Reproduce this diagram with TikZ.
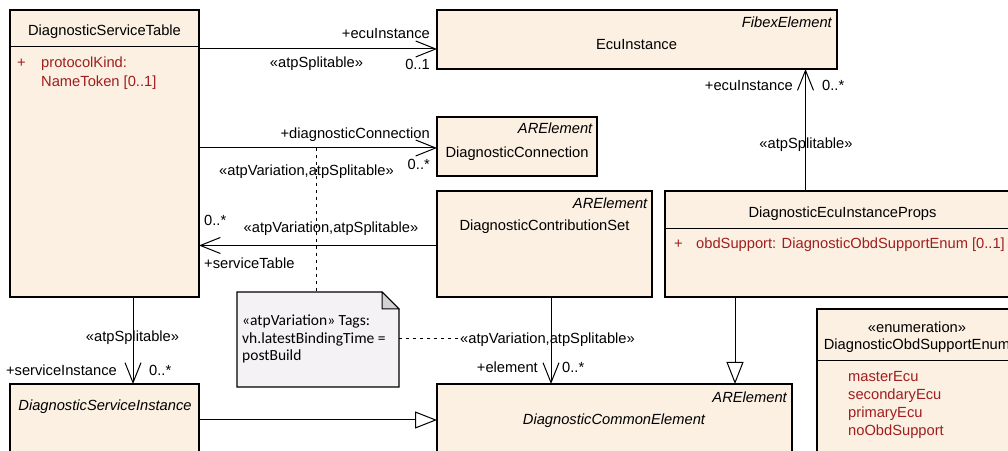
\documentclass[tikz,border=0pt]{standalone}
\usepackage{fontspec}
\setmainfont{Liberation Sans}
\newfontfamily\notefont{Carlito}
\usetikzlibrary{arrows.meta}
\definecolor{clsfill}{RGB}{251,240,226}
\definecolor{notefill}{RGB}{245,242,246}
\definecolor{foldfill}{RGB}{210,210,214}
\definecolor{attrred}{RGB}{160,30,30}
\tikzset{
 cls/.style={draw=black, line width=1.1bp, fill=clsfill, inner sep=0pt, outer sep=0pt, anchor=north west},
 lbl/.style={inner sep=0pt, text height=13.5bp, text depth=3bp, font=\fontsize{14.7bp}{18bp}\selectfont},
 ilbl/.style={lbl, font=\fontsize{14.7bp}{18bp}\selectfont\itshape},
 attr/.style={lbl, text=attrred},
 notetext/.style={inner sep=0pt, text height=11bp, text depth=3bp, font=\notefont\fontsize{15.5bp}{18bp}\selectfont, anchor=west},
 assoc/.style={line width=1bp, -{Straight Barb[length=20bp,width=16bp,line width=1bp]}},
 gen/.style={line width=1bp, -{Triangle[open,length=22bp,width=17bp,fill=white,line width=1bp]}},
 sepline/.style={line width=1bp},
 notelink/.style={line width=1bp, dash pattern=on 3bp off 4bp},
}
\begin{document}
\begin{tikzpicture}[x=1bp,y=-1bp]
\useasboundingbox (0,0) rectangle (1008,451);
\clip (0,0) rectangle (1008,451);

% class boxes
\node[cls, minimum width=189bp, minimum height=287bp] (dst) at (10,10) {};
\node[cls, minimum width=400bp, minimum height=59bp] (eci) at (437,10) {};
\node[cls, minimum width=160bp, minimum height=59bp] (dcon) at (437,117) {};
\node[cls, minimum width=215bp, minimum height=106bp] (dcs) at (437,191) {};
\node[cls, minimum width=355bp, minimum height=106bp] (props) at (665,191) {};
\node[cls, minimum width=189bp, minimum height=90bp] (dsi) at (10,384) {};
\node[cls, minimum width=355bp, minimum height=90bp] (dce) at (437,384) {};
\node[cls, minimum width=200bp, minimum height=160bp] (enum) at (817,309) {};

% note
\node[inner sep=0pt, outer sep=0pt, minimum width=162bp, minimum height=95bp, anchor=north west] (note) at (237,292) {};
\draw[line width=1.1bp, fill=notefill] (note.north west) -- ([xshift=-17bp]note.north east) -- ([yshift=-17bp]note.north east) -- (note.south east) -- (note.south west) -- cycle;
\draw[line width=1bp, fill=foldfill] ([xshift=-17bp]note.north east) -- ([xshift=-17bp,yshift=-17bp]note.north east) -- ([yshift=-17bp]note.north east) -- cycle;
\node[notetext] (n1) at (242,322) {«atpVariation» Tags:};
\node[notetext] (n2) at (242,339.5) {vh.latestBindingTime =};
\node[notetext] (n3) at (242,357) {postBuild};

% DiagnosticServiceTable
\node[lbl] (dstT) at (104.5,30.5) {DiagnosticServiceTable};
\draw[sepline] (dst.west |- 0,47) -- (dst.east |- 0,47);
\node[attr, anchor=west] (dstP) at (17,62.5) {+};
\node[attr, anchor=west] (dstA1) at (41,62.5) {protocolKind:};
\node[attr, anchor=west] (dstA2) at (41,81) {NameToken [0..1]};

% EcuInstance
\node[ilbl, anchor=east] (eciS) at (832,22.5) {FibexElement};
\node[lbl] (eciT) at (636.5,44.5) {EcuInstance};

% DiagnosticConnection
\node[ilbl, anchor=east] (dconS) at (592.5,128.5) {ARElement};
\node[lbl] (dconT) at (517,152) {DiagnosticConnection};

% DiagnosticContributionSet
\node[ilbl, anchor=east] (dcsS) at (647.5,203.5) {ARElement};
\node[lbl] (dcsT) at (544.5,225) {DiagnosticContributionSet};

% DiagnosticEcuInstanceProps
\node[lbl] (propsT) at (842.5,212) {DiagnosticEcuInstanceProps};
\draw[sepline] (props.west |- 0,229) -- (props.east |- 0,229);
\node[attr, anchor=west] (propsP) at (674,243) {+};
\node[attr, anchor=west] (propsA) at (696,243) {obdSupport: DiagnosticObdSupportEnum [0..1]};

% DiagnosticServiceInstance
\node[ilbl] (dsiT) at (105,405.5) {DiagnosticServiceInstance};

% DiagnosticCommonElement
\node[ilbl, anchor=east] (dceS) at (787,397.5) {ARElement};
\node[ilbl] (dceT) at (614,419.5) {DiagnosticCommonElement};

% enumeration
\node[lbl] (enumS) at (917,327) {«enumeration»};
\node[lbl] (enumT) at (917,344.5) {DiagnosticObdSupportEnum};
\draw[sepline] (enum.west |- 0,361) -- (enum.east |- 0,361);
\node[attr, anchor=west] (l1) at (848,376) {masterEcu};
\node[attr, anchor=west] (l2) at (848,394) {secondaryEcu};
\node[attr, anchor=west] (l3) at (848,412) {primaryEcu};
\node[attr, anchor=west] (l4) at (848,430) {noObdSupport};

% association: DiagnosticServiceTable -> EcuInstance
\draw[assoc] (dst.east |- 0,49) -- (eci.west |- 0,49);
\node[lbl, anchor=east] at (430,33) {+ecuInstance};
\node[lbl] at (316.5,62) {«atpSplitable»};
\node[lbl, anchor=east] at (430,64.5) {0..1};

% association: DiagnosticServiceTable -> DiagnosticConnection
\draw[assoc] (dst.east |- 0,148) -- (dcon.west |- 0,148);
\coordinate (a2pt) at (316.5,148);
\node[lbl, anchor=east] at (430,133) {+diagnosticConnection};
\node[lbl] at (306.5,170) {«atpVariation,atpSplitable»};
\node[lbl, anchor=east] at (430,164) {0..*};

% association: DiagnosticContributionSet -> DiagnosticServiceTable
\draw[assoc] (dcs.west |- 0,245.5) -- (dst.east |- 0,245.5);
\node[lbl, anchor=west] at (204,220) {0..*};
\node[lbl] at (331,227) {«atpVariation,atpSplitable»};
\node[lbl, anchor=west] at (204,263) {+serviceTable};

% association: DiagnosticServiceTable -> DiagnosticServiceInstance
\draw[assoc] (dst.south -| 133,0) -- (dsi.north -| 133,0);
\node[lbl] at (132.5,336) {«atpSplitable»};
\node[lbl, anchor=east] at (117,370) {+serviceInstance};
\node[lbl, anchor=west] at (149,370) {0..*};

% association: DiagnosticContributionSet -> DiagnosticCommonElement
\draw[assoc] (dcs.south -| 551,0) -- (dce.north -| 551,0);
\node[lbl, anchor=west] (a5v) at (460,338.5) {«atpVariation,atpSplitable»};
\node[lbl, anchor=east] at (538,367) {+element};
\node[lbl, anchor=west] at (562,367) {0..*};

% association: DiagnosticEcuInstanceProps -> EcuInstance
\draw[assoc] (props.north -| 805.5,0) -- (eci.south -| 805.5,0);
\node[lbl, anchor=east] at (793,85) {+ecuInstance};
\node[lbl, anchor=west] at (822,85) {0..*};
\node[lbl] at (806,143) {«atpSplitable»};

% generalizations
\draw[gen] (props.south -| 735,0) -- (dce.north -| 735,0);
\draw[gen] (dsi.east |- 0,420) -- (dce.west |- 0,420);

% note links
\draw[notelink] (a2pt) -- (note.north -| a2pt);
\draw[notelink] (note.east |- 0,338.5) -- (a5v.west |- 0,338.5);
\end{tikzpicture}
\end{document}
